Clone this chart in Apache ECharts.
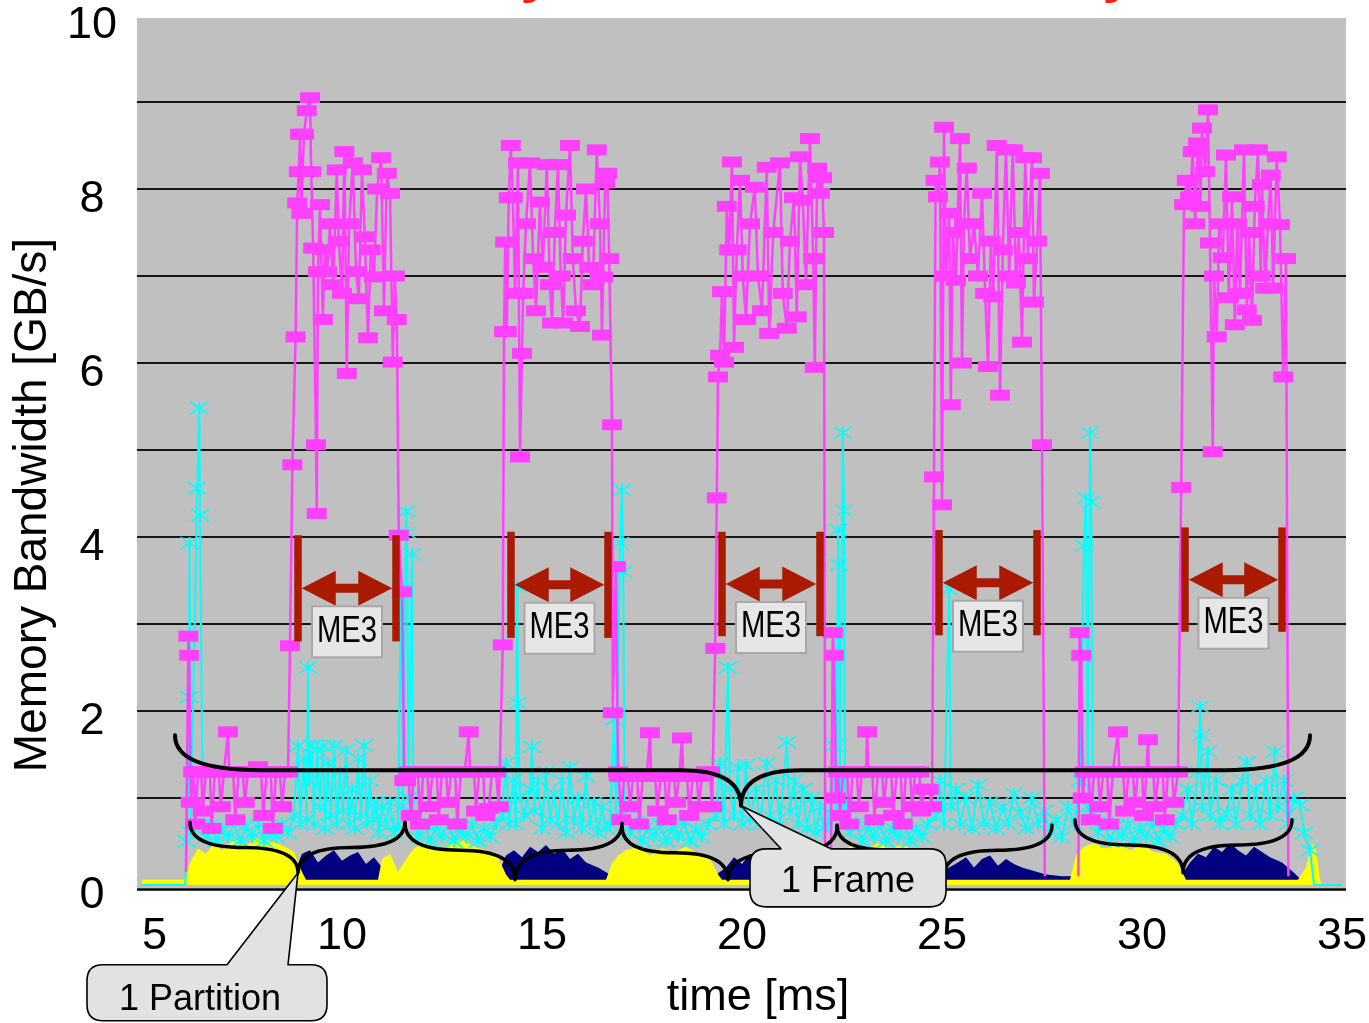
<!DOCTYPE html>
<html>
<head>
<meta charset="utf-8">
<script src="https://cdn.jsdelivr.net/npm/echarts@6/dist/echarts.min.js"></script>
<style>
html,body{margin:0;padding:0;background:#ffffff;}
#chart{width:1369px;height:1023px;}
</style>
</head>
<body>
<div id="chart"></div>
<script>
// ---------------- axis ticks ----------------
const xTicks = [5, 10, 15, 20, 25, 30, 35];
const yTickLabels = [0, 2, 4, 6, 8, 10];
const yGridValues = [1, 2, 3, 4, 5, 6, 7, 8, 9];

// ---------------- series values: [time ms, GB/s] ('-' = gap) ----------------
const magentaSeries = [
  [6.10,0.15],[6.16,2.86],[6.18,2.64],[6.22,0.95],[6.28,1.30],[6.33,0.70],[6.40,1.30],[6.48,1.30],[6.52,0.85],[6.60,1.30],
  [6.70,1.30],[6.74,0.65],[6.82,1.30],[6.92,1.30],[6.97,0.90],[7.05,1.30],[7.15,1.76],[7.18,1.30],[7.28,1.30],[7.33,0.75],
  [7.42,1.30],[7.52,1.30],[7.57,0.95],[7.65,1.30],[7.75,1.30],[7.90,1.36],[7.98,1.30],[8.03,0.80],[8.12,1.30],[8.22,1.30],
  [8.27,0.65],[8.35,1.30],[8.45,1.30],[8.50,0.90],[8.58,1.30],[8.65,1.30],
  [8.70,2.75],[8.76,4.83],[8.84,6.30],[8.88,7.84],[8.92,8.20],[8.95,8.63],[8.98,7.72],[9.05,8.63],[9.12,8.90],[9.20,9.05],
  [9.23,8.20],[9.28,7.32],[9.35,5.06],[9.37,4.27],[9.40,7.05],[9.45,7.82],[9.52,6.50],[9.57,7.30],[9.63,7.05],[9.70,7.60],
  [9.78,6.90],[9.87,8.22],[9.92,7.40],[10.00,6.80],[10.06,8.43],[10.12,5.88],[10.18,7.60],[10.27,8.30],[10.35,7.05],[10.42,6.74],
  [10.50,8.22],[10.57,7.45],[10.65,6.29],[10.72,7.30],[10.80,6.99],[10.88,8.00],[10.98,8.36],[11.05,6.60],[11.12,8.18],[11.20,7.95],
  [11.27,6.01],[11.32,7.00],[11.37,6.50],[11.42,4.02],[11.50,3.37],[11.56,1.20],
  [11.60,1.20],[11.66,1.30],[11.72,0.80],[11.80,1.30],[11.90,1.30],[11.95,0.70],[12.03,1.30],[12.13,1.30],[12.18,0.90],[12.27,1.30],
  [12.37,1.30],[12.42,0.75],[12.50,1.30],[12.60,1.30],[12.65,0.95],[12.73,1.30],[12.83,1.30],[12.88,0.70],[12.97,1.30],[13.07,1.30],
  [13.17,1.76],[13.20,1.30],[13.30,1.30],[13.35,0.85],[13.43,1.30],[13.53,1.30],[13.58,0.80],[13.67,0.88],[13.75,1.30],[13.85,1.30],
  [13.92,0.90],
  [14.02,2.76],[14.05,6.36],[14.08,7.39],[14.12,6.36],[14.17,7.90],[14.22,8.50],[14.27,7.90],[14.33,6.80],[14.40,8.30],[14.45,4.92],
  [14.50,6.11],[14.53,6.80],[14.60,7.60],[14.70,8.30],[14.78,7.20],[14.85,6.60],[14.95,7.85],[15.02,7.10],[15.12,8.28],[15.20,6.90],
  [15.25,6.46],[15.32,7.50],[15.40,8.28],[15.47,7.00],[15.53,6.46],[15.60,7.70],[15.70,8.50],[15.77,7.20],[15.85,6.60],[15.95,6.42],
  [16.02,7.40],[16.10,8.00],[16.18,7.10],[16.27,6.90],[16.37,8.45],[16.45,7.60],[16.50,6.32],[16.53,6.99],[16.58,8.07],[16.63,8.18],
  [16.68,7.20],[16.75,5.29],[16.77,1.98],[16.85,3.66],[16.90,1.30],
  [16.92,1.25],[16.98,0.75],[17.05,1.25],[17.15,1.25],[17.20,0.90],[17.28,1.25],[17.38,1.25],[17.43,0.70],[17.52,1.25],[17.62,1.25],
  [17.70,1.75],[17.73,1.25],[17.83,1.25],[17.88,0.85],[17.97,1.25],[18.07,1.25],[18.12,0.75],[18.20,1.25],[18.30,1.25],[18.35,0.95],
  [18.43,1.25],[18.50,1.69],[18.53,1.25],[18.63,1.25],[18.68,0.80],[18.77,1.25],[18.87,1.25],[18.92,0.90],[19.00,1.25],[19.10,1.30],
  [19.20,1.30],[19.25,0.90],
  [19.33,2.72],[19.37,4.45],[19.40,5.84],[19.45,6.09],[19.50,6.82],[19.55,6.01],[19.62,7.80],[19.68,7.30],[19.75,8.31],[19.80,6.18],
  [19.87,7.30],[19.95,8.10],[20.02,7.00],[20.10,6.50],[20.20,7.60],[20.32,8.02],[20.40,7.00],[20.50,6.60],[20.62,8.25],[20.68,6.34],
  [20.78,7.50],[20.95,8.30],[21.02,6.80],[21.12,6.40],[21.20,7.40],[21.30,7.90],[21.37,6.53],[21.45,8.37],[21.52,7.87],[21.60,6.90],
  [21.70,8.58],[21.78,7.20],[21.82,5.95],[21.88,8.24],[21.95,7.95],[22.00,8.13],[22.05,7.50],[22.08,0.10],
  [22.14,'-'],
  [22.22,0.10],[22.27,2.90],[22.30,2.64],[22.35,1.00],[22.40,1.30],
  [22.45,0.80],[22.53,1.30],[22.63,1.30],[22.68,0.70],[22.77,1.30],[22.87,1.30],[22.92,0.90],[23.00,1.30],[23.10,1.30],[23.13,1.76],
  [23.16,1.30],[23.26,1.30],[23.31,0.75],[23.40,1.30],[23.50,1.30],[23.55,0.95],[23.63,1.30],[23.73,1.30],[23.78,0.80],[23.87,1.30],
  [23.97,1.30],[24.02,0.70],[24.10,1.30],[24.20,1.30],[24.25,0.90],[24.33,1.30],[24.43,1.30],[24.48,0.85],[24.57,1.10],[24.67,1.10],
  [24.75,0.90],
  [24.80,4.69],[24.84,8.10],[24.90,7.91],[24.95,8.31],[25.00,4.37],[25.05,8.71],[25.10,7.00],[25.18,7.72],[25.22,5.52],[25.27,7.50],
  [25.35,6.95],[25.45,8.58],[25.50,6.00],[25.55,7.60],[25.62,8.24],[25.70,7.20],[25.80,7.60],[25.90,7.00],[26.00,7.95],[26.08,6.80],
  [26.15,5.96],[26.22,7.40],[26.28,6.76],[26.37,8.50],[26.45,5.63],[26.52,7.30],[26.60,8.45],[26.68,7.00],[26.77,8.45],[26.85,6.92],
  [26.92,7.50],[27.00,6.24],[27.08,8.36],[27.15,7.20],[27.25,8.36],[27.30,6.70],[27.38,7.40],[27.45,8.18],[27.50,5.06],[27.57,0.10],
  [28.00,'-'],
  [28.41,0.10],[28.44,2.90],[28.48,2.64],[28.52,1.00],
  [28.57,1.30],[28.67,1.30],[28.72,0.75],[28.80,1.30],[28.90,1.30],[28.95,0.90],[29.03,1.30],[29.13,1.30],[29.18,0.70],[29.27,1.30],
  [29.40,1.76],[29.43,1.30],[29.53,1.30],[29.58,0.85],[29.67,1.30],[29.77,1.30],[29.82,0.95],[29.90,1.30],[30.00,1.30],[30.05,0.80],
  [30.15,1.67],[30.18,1.30],[30.28,1.30],[30.33,0.90],[30.42,1.30],[30.52,1.30],[30.57,0.75],[30.65,1.30],[30.75,1.30],[30.80,0.95],
  [30.90,1.30],
  [30.98,4.57],[31.05,7.82],[31.12,8.10],[31.20,7.91],[31.27,8.43],[31.33,7.60],[31.40,8.53],[31.46,7.80],[31.50,8.70],[31.58,8.20],
  [31.65,8.91],[31.70,7.38],[31.77,4.98],[31.80,7.00],[31.87,6.30],[31.93,7.60],[32.02,7.21],[32.10,8.39],[32.17,6.75],[32.25,7.91],
  [32.32,6.44],[32.38,7.60],[32.45,6.80],[32.55,8.45],[32.62,6.61],[32.68,7.50],[32.75,6.49],[32.82,7.80],[32.90,8.45],[32.97,7.00],
  [33.00,8.05],[33.08,6.86],[33.15,7.60],[33.22,8.16],[33.28,6.86],[33.37,8.37],[33.45,7.59],[33.53,5.84],[33.60,7.20],[33.66,0.10]
];

const cyanSeries = [
  [5.00,0.00],[6.08,0.00],[6.12,0.50],[6.18,2.16],[6.19,3.93],[6.22,0.60],[6.38,4.56],[6.43,5.48],[6.45,4.25],[6.52,0.70],
  [6.60,0.55],[6.75,0.70],[6.85,0.50],[7.00,0.65],[7.15,0.55],[7.30,0.72],[7.45,0.50],[7.60,0.68],[7.75,0.55],[7.90,0.70],
  [8.05,0.50],[8.20,0.62],[8.35,0.55],[8.50,0.70],[8.65,0.60],
  [8.80,0.80],[8.90,1.60],[8.95,0.70],[9.05,1.45],[9.12,0.75],[9.15,2.50],[9.18,1.20],[9.25,1.60],[9.30,0.70],[9.38,1.55],
  [9.45,0.90],[9.52,1.60],[9.58,0.65],[9.65,1.40],[9.72,0.80],[9.80,1.60],[9.87,0.70],[9.95,1.30],[10.02,0.85],[10.10,1.55],
  [10.17,0.70],[10.25,1.10],[10.32,0.65],[10.40,1.45],[10.47,0.80],[10.55,1.60],[10.62,0.70],[10.70,1.20],[10.77,0.75],[10.85,0.95],
  [10.92,0.60],[11.00,0.90],[11.10,0.70],[11.20,0.95],[11.30,0.60],
  [11.40,0.70],[11.47,3.40],[11.52,0.90],[11.60,4.29],[11.63,4.05],[11.66,1.00],[11.75,3.80],[11.78,0.80],
  [11.90,0.55],[12.05,0.70],[12.20,0.50],[12.35,0.68],[12.50,0.55],[12.65,0.72],[12.80,0.50],[12.95,0.65],[13.10,0.55],[13.25,0.70],
  [13.40,0.50],[13.55,0.65],[13.70,0.55],[13.85,0.70],
  [14.00,0.80],[14.10,1.40],[14.18,0.70],[14.28,1.20],[14.35,0.70],[14.38,3.43],[14.40,2.09],[14.45,1.00],[14.55,0.80],[14.70,1.10],
  [14.75,1.59],[14.80,0.85],[14.90,1.20],[15.00,0.65],[15.10,1.30],[15.20,0.75],[15.30,1.05],[15.40,0.70],[15.50,1.20],[15.60,0.60],
  [15.70,1.35],[15.80,0.75],[15.90,1.00],[16.00,0.65],[16.10,1.25],[16.20,0.70],[16.30,0.95],[16.40,0.60],[16.50,0.90],[16.60,0.65],
  [16.70,0.70],[16.80,1.90],[16.85,0.80],[16.95,3.93],[17.00,4.54],[17.03,3.60],[17.07,0.90],
  [17.20,0.60],[17.35,0.72],[17.50,0.50],[17.65,0.68],[17.80,0.55],[17.95,0.70],[18.10,0.50],[18.25,0.66],[18.40,0.55],[18.55,0.72],
  [18.70,0.50],[18.85,0.65],[19.00,0.55],[19.15,0.70],
  [19.35,0.80],[19.45,1.40],[19.55,0.70],[19.65,2.50],[19.70,1.10],[19.80,0.80],[19.90,1.35],[20.00,0.70],[20.10,1.38],[20.20,0.75],
  [20.35,1.10],[20.45,0.70],[20.62,1.40],[20.70,0.80],[20.85,1.20],[20.95,0.70],[21.12,1.64],[21.20,0.85],[21.30,1.20],[21.40,0.70],
  [21.52,1.10],[21.62,0.65],[21.75,1.00],[21.85,0.60],[21.95,0.90],[22.05,0.65],
  [22.15,0.70],[22.30,1.60],[22.35,0.80],[22.40,4.08],[22.42,3.68],[22.45,0.90],[22.52,5.20],[22.55,4.30],[22.58,0.90],
  [22.70,0.60],[22.85,0.72],[23.00,0.50],[23.15,0.68],[23.30,0.55],[23.45,0.70],[23.60,0.50],[23.75,0.66],[23.90,0.55],[24.05,0.72],
  [24.20,0.50],[24.35,0.65],[24.50,0.55],[24.65,0.70],
  [24.85,0.80],[24.95,1.20],[25.05,0.70],[25.18,3.40],[25.22,0.90],[25.35,1.10],[25.45,0.70],[25.60,1.00],[25.75,0.65],[25.90,1.15],
  [26.05,0.70],[26.20,0.95],[26.35,0.65],[26.52,0.90],[26.65,0.70],[26.80,1.05],[26.95,0.83],[27.10,0.65],[27.25,1.00],[27.40,0.70],
  [27.55,0.85],
  [27.70,0.60],[27.85,0.75],[28.00,0.55],[28.15,0.90],[28.30,0.70],[28.45,1.20],[28.55,3.90],[28.60,4.45],[28.65,0.90],[28.70,5.20],
  [28.73,4.40],[28.78,0.90],
  [28.90,0.60],[29.05,0.72],[29.20,0.50],[29.35,0.68],[29.50,0.55],[29.65,0.70],[29.80,0.50],[29.95,0.66],[30.10,0.55],[30.25,0.72],
  [30.40,0.50],[30.55,0.65],[30.70,0.55],[30.85,0.70],
  [31.00,0.80],[31.15,1.10],[31.25,0.70],[31.40,1.30],[31.45,2.05],[31.48,1.72],[31.50,0.90],[31.65,1.53],[31.70,0.80],[31.85,1.20],
  [31.95,0.70],[32.12,0.83],[32.25,1.10],[32.35,0.70],[32.50,1.20],[32.62,1.41],[32.70,0.80],[32.85,1.10],[32.95,0.70],[33.10,1.20],
  [33.20,0.80],[33.32,1.53],[33.40,0.90],[33.55,1.20],[33.65,0.70],[33.80,1.00],[33.95,0.92],[34.05,0.60],[34.20,0.40],[34.30,0.00],
  [35.00,0.00]
];

const yellowSeries = [
  [5.00,0.06],[6.05,0.06],[6.15,0.20],[6.25,0.30],[6.40,0.42],[6.60,0.36],[6.80,0.48],[7.00,0.40],[7.30,0.52],[7.60,0.45],
  [7.90,0.55],[8.20,0.50],[8.50,0.46],[8.80,0.38],[9.00,0.15],[9.10,0.06],[10.90,0.06],[11.00,0.30],[11.20,0.36],[11.40,0.15],
  [11.60,0.30],[11.80,0.42],[12.10,0.50],[12.40,0.40],[12.70,0.48],[13.00,0.52],[13.30,0.44],[13.60,0.40],[13.90,0.32],[14.10,0.12],
  [14.20,0.06],[16.60,0.06],[16.75,0.25],[16.90,0.34],[17.10,0.40],[17.40,0.44],[17.70,0.34],[18.00,0.42],[18.30,0.38],[18.60,0.44],
  [18.90,0.36],[19.20,0.30],[19.40,0.12],[19.50,0.06],[22.10,0.06],[22.30,0.30],[22.50,0.40],[22.80,0.46],[23.10,0.40],[23.40,0.48],
  [23.70,0.42],[24.00,0.46],[24.30,0.40],[24.60,0.38],[24.90,0.25],[25.05,0.06],[28.20,0.06],[28.35,0.34],[28.55,0.44],[28.80,0.48],
  [29.10,0.42],[29.40,0.48],[29.70,0.40],[30.00,0.46],[30.30,0.38],[30.60,0.36],[30.90,0.25],[31.10,0.06],[33.90,0.06],[34.10,0.20],
  [34.25,0.48],[34.35,0.40],[34.45,0.06],[34.50,0.00],[35.00,0.00]
];

const navySeries = [
  [5.00,0.00],[6.10,0.00],[6.20,0.10],[8.80,0.12],[9.00,0.36],[9.20,0.40],[9.40,0.26],[9.60,0.34],[9.80,0.40],[10.00,0.28],
  [10.20,0.34],[10.40,0.38],[10.60,0.24],[10.80,0.32],[11.00,0.20],[11.30,0.12],[11.60,0.10],[13.90,0.12],[14.10,0.34],[14.30,0.40],
  [14.50,0.32],[14.70,0.44],[14.90,0.38],[15.10,0.46],[15.30,0.36],[15.50,0.42],[15.70,0.30],[15.90,0.36],[16.10,0.26],[16.40,0.20],
  [16.70,0.12],[19.30,0.10],[19.60,0.20],[19.80,0.32],[20.00,0.24],[20.20,0.36],[20.40,0.16],[20.60,0.28],[20.80,0.20],[21.00,0.26],
  [21.20,0.16],[21.50,0.22],[21.80,0.14],[22.10,0.10],[24.90,0.10],[25.10,0.18],[25.40,0.26],[25.60,0.32],[25.80,0.20],[26.00,0.30],
  [26.20,0.34],[26.40,0.22],[26.60,0.30],[26.80,0.24],[27.00,0.20],[27.30,0.16],[27.60,0.12],[28.00,0.10],[31.00,0.12],[31.20,0.26],
  [31.40,0.36],[31.60,0.32],[31.80,0.44],[32.00,0.38],[32.20,0.48],[32.40,0.40],[32.60,0.34],[32.80,0.44],[33.00,0.38],[33.20,0.32],
  [33.50,0.26],[33.80,0.14],[34.00,0.05],[34.20,0.00],[35.00,0.00]
];

// ---------------- annotations (data coordinates) ----------------
const me3Start  = [8.90, 14.225, 19.50, 24.925, 31.075];
const me3End    = [11.35, 16.65, 21.95, 27.375, 33.50];
const me3Top    = [4.02, 4.06, 4.06, 4.08, 4.11];
const me3Bottom = [2.80, 2.84, 2.86, 2.87, 2.91];
const me3Label  = ['ME3', 'ME3', 'ME3', 'ME3', 'ME3'];

const partStart = [6.20, 11.575, 17.00, 22.375, 28.325];
const partTip   = [8.90, 14.325, 19.65, 25.05, 31.025];
const partEnd   = [11.575, 17.00, 22.375, 27.75, 33.75];
const partEndY  = [0.72, 0.71, 0.67, 0.69, 0.75];
const partMidY  = [0.43, 0.40, 0.37, 0.40, 0.46];
const partTipY  = [0.14, 0.06, 0.06, 0.10, 0.14];

const frameBrace = [5.825, 19.975, 34.20, 1.72, 1.32, 0.91];

const calloutText = ['1 Partition', '1 Frame'];
const calloutAt   = [[8.90, 0.14], [19.975, 0.91]];

const titleText = 'Memory Bandwidth Variability';

// ---------------- styling / layout ----------------
const FONT = '"Liberation Sans", Arial, Helvetica, sans-serif';
const BG = { x0: 4.875, x1: 35.1, y0: -0.035, y1: 9.966 };
const ME3_RED = '#aa1a00';
const CALLOUT_LAYOUT = [
  { dx0: -211, dx1: 29, dy0: 92, dy1: 148, p1: -71, p2: -10, tx: -98, ty: 127 },
  { dx0: 9, dx1: 205, dy0: 43, dy1: 101, p1: 40, p2: 90, tx: 107, ty: 76 }
];
const STAR = 'path://M0,0L10,10M10,0L0,10M5,0L5,10';

function renderBackground(params, api) {
  const a = api.coord([BG.x0, BG.y1]);
  const b = api.coord([BG.x1, BG.y0]);
  const kids = [{ type: 'rect', shape: { x: a[0], y: a[1], width: b[0] - a[0], height: b[1] - a[1] }, style: { fill: '#c0c0c0' } }];
  yGridValues.forEach(v => {
    const p = api.coord([BG.x0, v]);
    kids.push({ type: 'line', shape: { x1: a[0], y1: p[1], x2: b[0], y2: p[1] }, style: { stroke: '#161616', lineWidth: 2 } });
  });
  kids.push({ type: 'line', shape: { x1: a[0], y1: b[1] + 1.5, x2: b[0], y2: b[1] + 1.5 }, style: { stroke: '#000', lineWidth: 2.5 } });
  return { type: 'group', children: kids };
}

function renderPartBrace(params, api) {
  const l = api.coord([api.value(0), api.value(3)]);
  const t = api.coord([api.value(1), api.value(5)]);
  const r = api.coord([api.value(2), api.value(3)]);
  const yM = api.coord([api.value(1), api.value(4)])[1];
  const aL = (t[0] - l[0]) / 2, aR = (r[0] - t[0]) / 2;
  const d = 'M' + l[0] + ',' + l[1] + ' Q' + l[0] + ',' + yM + ' ' + (l[0] + aL) + ',' + yM +
    ' Q' + t[0] + ',' + yM + ' ' + t[0] + ',' + t[1] +
    ' Q' + t[0] + ',' + yM + ' ' + (r[0] - aR) + ',' + yM +
    ' Q' + r[0] + ',' + yM + ' ' + r[0] + ',' + r[1];
  return { type: 'path', shape: { pathData: d }, style: { fill: 'none', stroke: '#000', lineWidth: 3.5, lineCap: 'round', lineJoin: 'round' } };
}

function renderFrameBrace(params, api) {
  const l = api.coord([api.value(0), api.value(3)]);
  const t = api.coord([api.value(1), api.value(5)]);
  const r = api.coord([api.value(2), api.value(3)]);
  const yM = api.coord([api.value(1), api.value(4)])[1];
  const aE = 85, aT = 60;
  const d = 'M' + l[0] + ',' + l[1] + ' Q' + l[0] + ',' + yM + ' ' + (l[0] + aE) + ',' + yM +
    ' L' + (t[0] - aT) + ',' + yM + ' Q' + t[0] + ',' + yM + ' ' + t[0] + ',' + t[1] +
    ' Q' + t[0] + ',' + yM + ' ' + (t[0] + aT) + ',' + yM +
    ' L' + (r[0] - aE) + ',' + yM + ' Q' + r[0] + ',' + yM + ' ' + r[0] + ',' + r[1];
  return { type: 'path', shape: { pathData: d }, style: { fill: 'none', stroke: '#000', lineWidth: 4, lineCap: 'round', lineJoin: 'round' } };
}

function renderME3(params, api) {
  const tl = api.coord([api.value(0), api.value(2)]);
  const br = api.coord([api.value(1), api.value(3)]);
  const left = tl[0], right = br[0], top = tl[1], bottom = br[1];
  const mid = (top + bottom) / 2;
  const bw = 7.5, inL = left + bw / 2, inR = right - bw / 2;
  const hl = 34, hh = 17.5, sh = 4.5;
  const cx = (left + right) / 2;
  return {
    type: 'group', children: [
      { type: 'rect', shape: { x: left - bw / 2, y: top, width: bw, height: bottom - top }, style: { fill: ME3_RED } },
      { type: 'rect', shape: { x: right - bw / 2, y: top, width: bw, height: bottom - top }, style: { fill: ME3_RED } },
      { type: 'polygon', shape: { points: [[inL, mid], [inL + hl, mid - hh], [inL + hl, mid - sh], [inR - hl, mid - sh], [inR - hl, mid - hh], [inR, mid], [inR - hl, mid + hh], [inR - hl, mid + sh], [inL + hl, mid + sh], [inL + hl, mid + hh]] }, style: { fill: ME3_RED } },
      { type: 'rect', shape: { x: cx - 35, y: mid + 18, width: 70, height: 51 }, style: { fill: '#e6e6e6', stroke: '#a8a8a8', lineWidth: 2 } },
      { type: 'text', x: cx, y: mid + 43, scaleX: 0.79, style: { text: me3Label[params.dataIndex], fontSize: 37, fontFamily: FONT, fill: '#000', align: 'center', verticalAlign: 'middle' } }
    ]
  };
}

function renderCallout(params, api) {
  const p = api.coord([api.value(0), api.value(1)]);
  const L = CALLOUT_LAYOUT[params.dataIndex];
  const x0 = p[0] + L.dx0, x1 = p[0] + L.dx1, y0 = p[1] + L.dy0, y1 = p[1] + L.dy1, r = 16;
  const pb1 = p[0] + L.p1, pb2 = p[0] + L.p2;
  const d = 'M' + (x0 + r) + ',' + y0 + ' L' + pb1 + ',' + y0 + ' L' + p[0] + ',' + p[1] + ' L' + pb2 + ',' + y0 +
    ' L' + (x1 - r) + ',' + y0 + ' Q' + x1 + ',' + y0 + ' ' + x1 + ',' + (y0 + r) +
    ' L' + x1 + ',' + (y1 - r) + ' Q' + x1 + ',' + y1 + ' ' + (x1 - r) + ',' + y1 +
    ' L' + (x0 + r) + ',' + y1 + ' Q' + x0 + ',' + y1 + ' ' + x0 + ',' + (y1 - r) +
    ' L' + x0 + ',' + (y0 + r) + ' Q' + x0 + ',' + y0 + ' ' + (x0 + r) + ',' + y0 + ' Z';
  return {
    type: 'group', children: [
      { type: 'path', shape: { pathData: d }, style: { fill: '#e2e2e2', stroke: '#000', lineWidth: 1.6, lineJoin: 'round' } },
      { type: 'text', x: p[0] + L.tx, y: p[1] + L.ty, style: { text: calloutText[params.dataIndex], fontSize: 36, fontFamily: FONT, fill: '#000', align: 'center', verticalAlign: 'middle' } }
    ]
  };
}

const chart = echarts.init(document.getElementById('chart'), null, { renderer: 'canvas' });
const option = {
  animation: false,
  backgroundColor: '#ffffff',
  grid: { left: 142, right: 27, top: 15, bottom: 138, containLabel: false, outerBoundsMode: 'none' },
  xAxis: {
    type: 'value', min: xTicks[0], max: xTicks[xTicks.length - 1], interval: xTicks[1] - xTicks[0],
    name: 'time [ms]', nameLocation: 'middle', nameGap: 90,
    nameTextStyle: { fontSize: 45, fontFamily: FONT, color: '#000', padding: [0, 0, 0, 32] },
    axisLine: { show: false }, axisTick: { show: false }, splitLine: { show: false },
    axisLabel: { fontSize: 45, fontFamily: FONT, color: '#000', margin: 29, alignMinLabel: 'left', formatter: v => String(v) }
  },
  yAxis: {
    type: 'value', min: 0, max: 10, interval: 1,
    name: 'Memory Bandwidth [GB/s]', nameLocation: 'middle', nameGap: 82, nameRotate: 90,
    nameTextStyle: { fontSize: 46, fontFamily: FONT, color: '#000', padding: [0, 110, 0, 0] },
    axisLine: { show: false }, axisTick: { show: false }, splitLine: { show: false },
    axisLabel: { fontSize: 45, fontFamily: FONT, color: '#000', margin: 50, align: 'center', verticalAlign: 'top', lineHeight: 22,
      formatter: v => (yTickLabels.indexOf(v) >= 0 ? String(v) : '') }
  },
  graphic: [
    { type: 'text', x: 337, y: -24, silent: true,
      style: { text: titleText, fontSize: 56, fontWeight: 'bold', fontFamily: FONT, fill: '#ff2200', align: 'left', verticalAlign: 'middle',
        shadowColor: 'rgba(0,0,0,0.15)', shadowOffsetX: 3, shadowOffsetY: 3, shadowBlur: 0 } }
  ],
  series: [
    { type: 'custom', name: 'background', z: 0, silent: true, data: [[xTicks[0], 0]], renderItem: renderBackground },
    { type: 'line', name: 'navy', z: 1, silent: true, data: navySeries, symbol: 'none',
      lineStyle: { width: 0, opacity: 0 }, itemStyle: { color: '#000080' }, areaStyle: { color: '#000080', opacity: 1 } },
    { type: 'line', name: 'yellow', z: 2, silent: true, data: yellowSeries, symbol: 'none',
      lineStyle: { width: 0, opacity: 0 }, itemStyle: { color: '#ffff00' }, areaStyle: { color: '#ffff00', opacity: 1 } },
    { type: 'line', name: 'cyan', z: 3, silent: true, data: cyanSeries, showAllSymbol: true,
      symbol: v => (v[1] <= 0.05 ? 'none' : STAR), symbolSize: [18, 12],
      lineStyle: { color: '#00ffff', width: 2 }, itemStyle: { color: '#00ffff', borderColor: '#00ffff', borderWidth: 1.6 } },
    { type: 'line', name: 'magenta', z: 4, silent: true, data: magentaSeries, showAllSymbol: true, connectNulls: false,
      symbol: v => (v[1] < 0.2 ? 'none' : 'rect'), symbolSize: [20, 11],
      lineStyle: { color: '#ff40ff', width: 2.5 }, itemStyle: { color: '#ff40ff' } },
    { type: 'custom', name: 'partitions', z: 6, silent: true,
      data: partStart.map((s, i) => [s, partTip[i], partEnd[i], partEndY[i], partMidY[i], partTipY[i]]),
      encode: { x: [0, 1, 2], y: [3, 4, 5] }, renderItem: renderPartBrace },
    { type: 'custom', name: 'frame', z: 6, silent: true, data: [frameBrace],
      encode: { x: [0, 1, 2], y: [3, 4, 5] }, renderItem: renderFrameBrace },
    { type: 'custom', name: 'ME3', z: 7, silent: true,
      data: me3Start.map((s, i) => [s, me3End[i], me3Top[i], me3Bottom[i]]),
      encode: { x: [0, 1], y: [2, 3] }, renderItem: renderME3 },
    { type: 'custom', name: 'callouts', z: 8, silent: true, data: calloutAt,
      encode: { x: 0, y: 1 }, renderItem: renderCallout }
  ]
};
chart.setOption(option);
</script>
</body>
</html>
